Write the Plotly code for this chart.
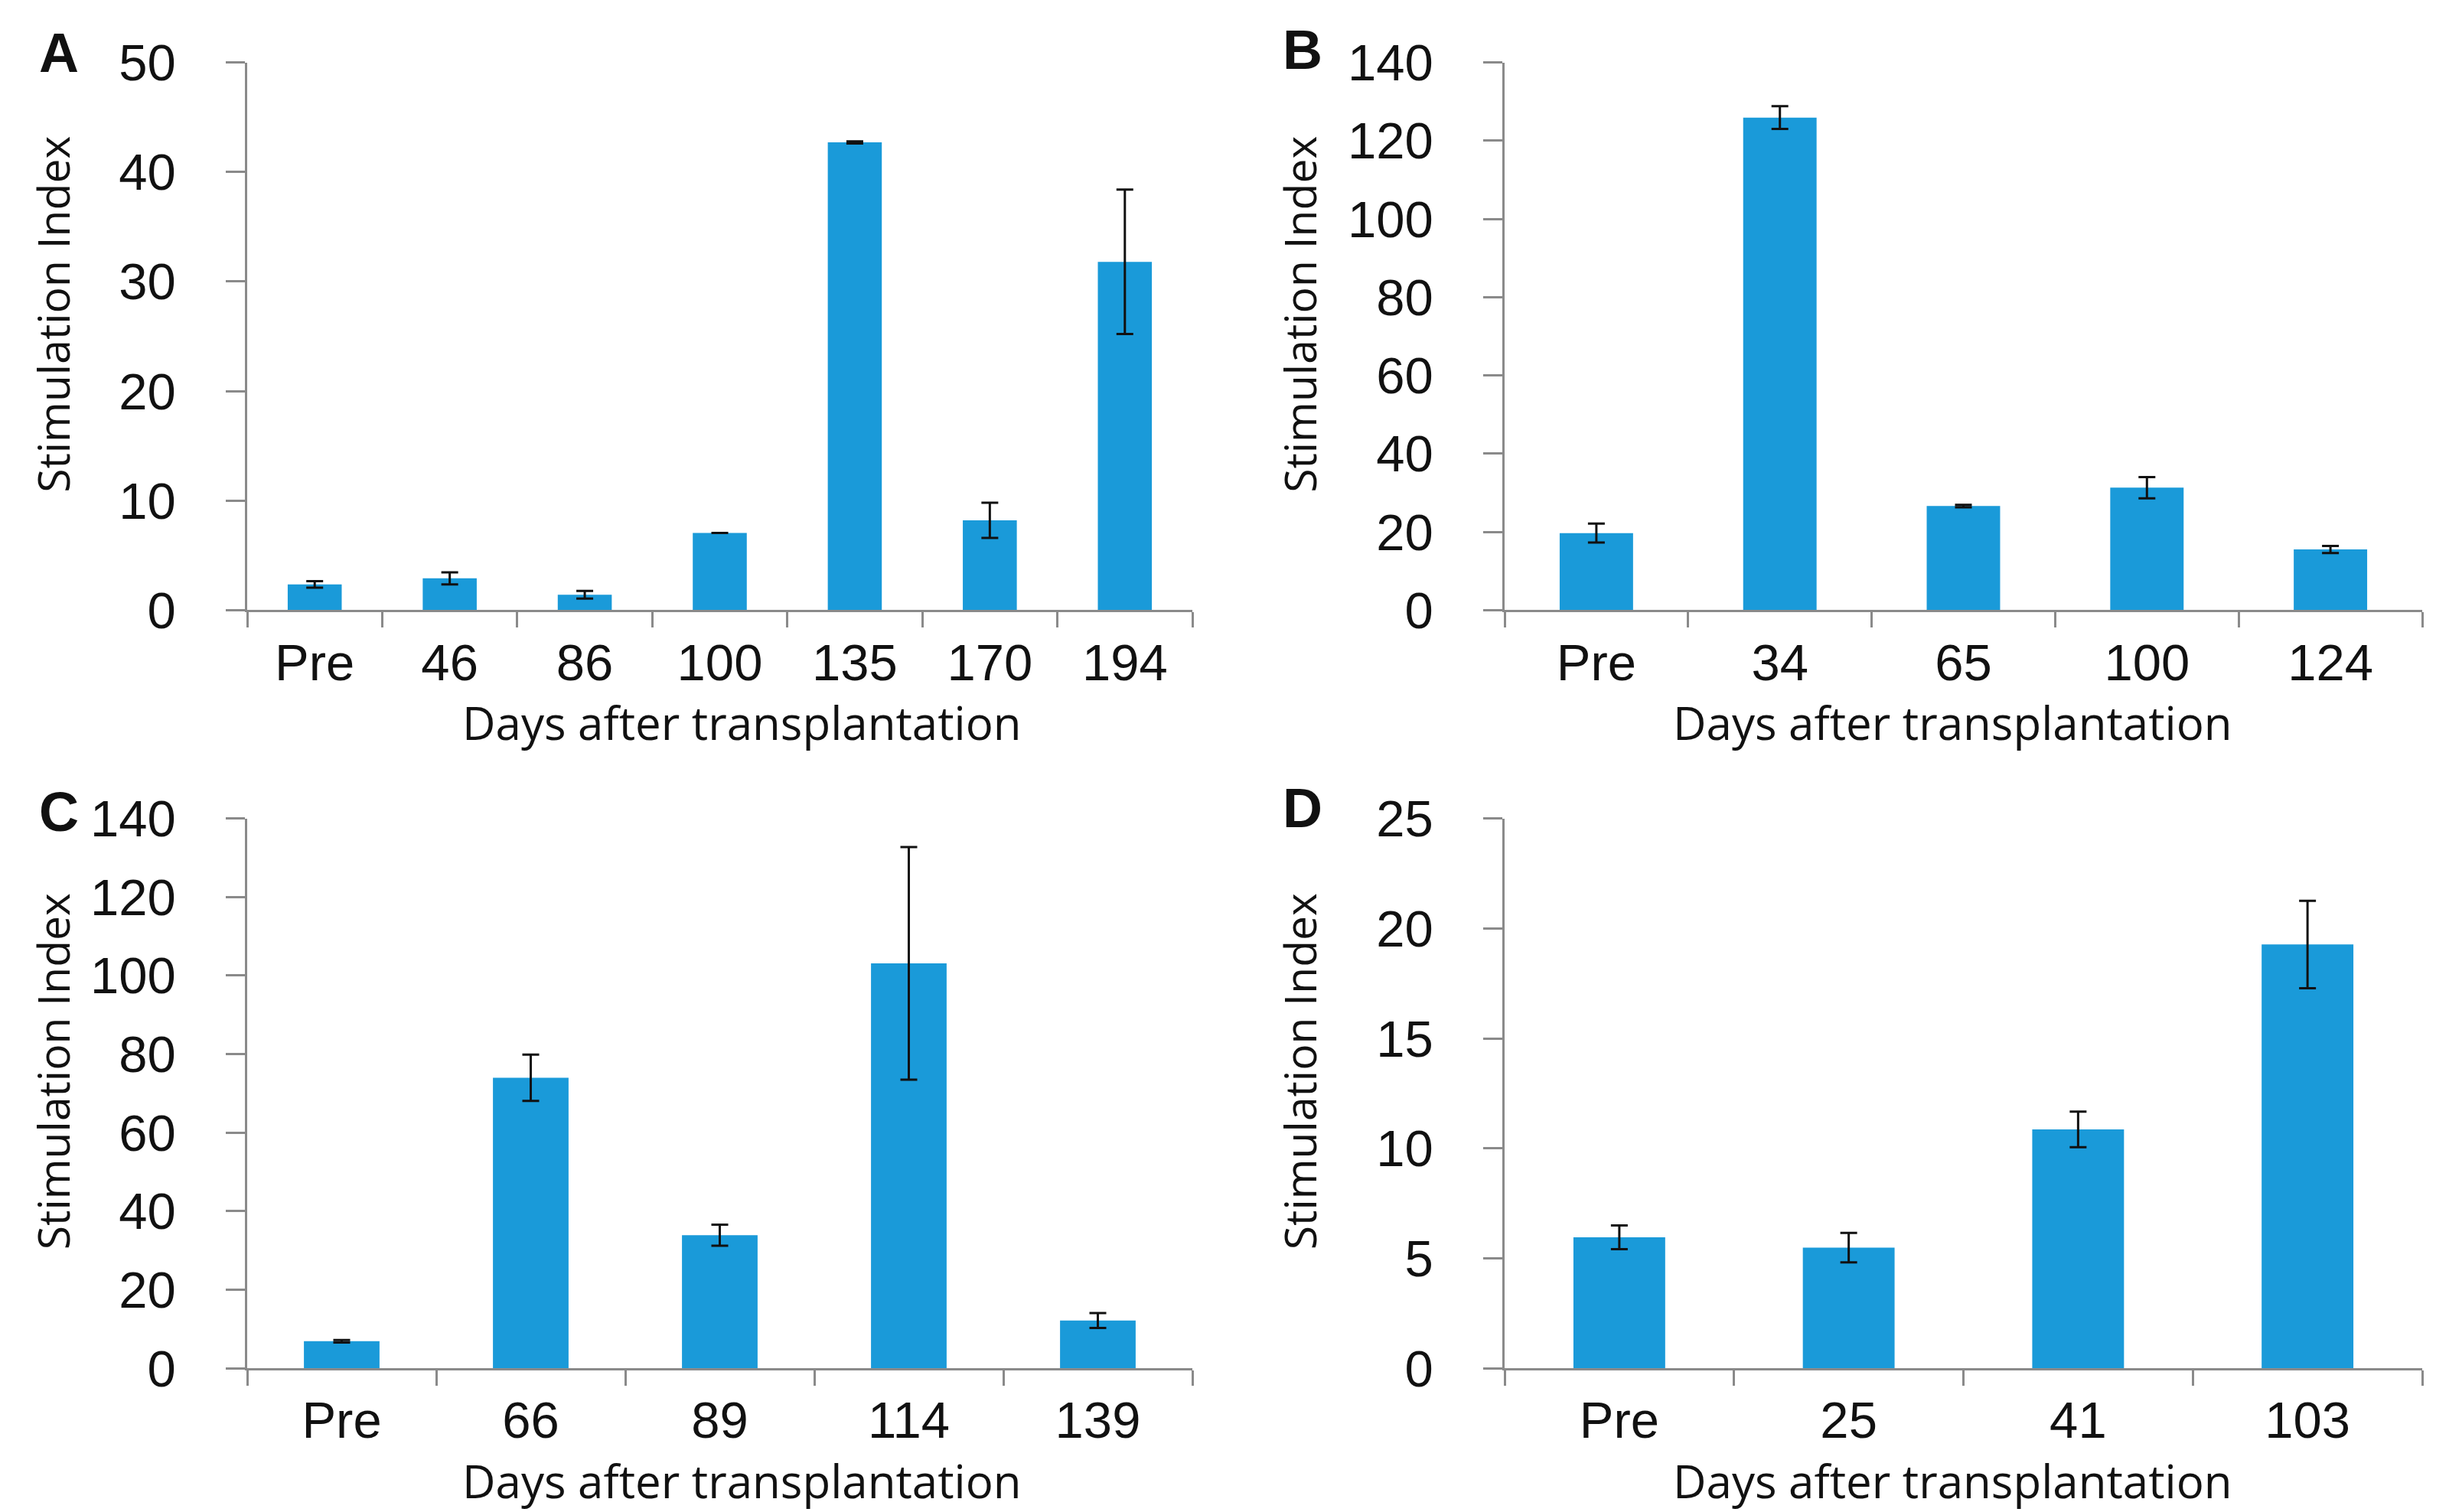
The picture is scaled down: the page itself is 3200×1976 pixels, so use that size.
import plotly.graph_objects as go
from plotly.subplots import make_subplots

# ---- data ----
cats_a = ["Pre", "46", "86", "100", "135", "170", "194"]
vals_a = [2.35, 2.9, 1.4, 7.05, 42.7, 8.2, 31.8]
errs_a = [0.3, 0.55, 0.35, 0.0, 0.1, 1.6, 6.6]

cats_b = ["Pre", "34", "65", "100", "124"]
vals_b = [19.7, 125.9, 26.6, 31.3, 15.5]
errs_b = [2.4, 2.9, 0.3, 2.7, 0.9]

cats_c = ["Pre", "66", "89", "114", "139"]
vals_c = [6.9, 74.0, 33.9, 103.1, 12.2]
errs_c = [0.3, 5.9, 2.7, 29.6, 1.9]

cats_d = ["Pre", "25", "41", "103"]
vals_d = [5.96, 5.49, 10.86, 19.27]
errs_d = [0.54, 0.67, 0.81, 1.99]

y_ranges = [[0, 50], [0, 140], [0, 140], [0, 25]]
y_dticks = [10, 20, 20, 5]
panel_letters = ["A", "B", "C", "D"]
x_title = "Days after transplantation"
y_title = "Stimulation Index"

W, H = 3200, 1976
BAR = "#1a9ad9"
AXC = "#8a8a8a"
INK = "#111111"
TICKFONT = dict(family="Liberation Sans, Arial, sans-serif", size=67, color=INK)
XTITLEFONT = dict(family="Open Sans, Noto Sans, sans-serif", size=60, color=INK)
YTITLEFONT = dict(family="Open Sans, Noto Sans, sans-serif", size=57, color=INK)

fig = make_subplots(rows=2, cols=2)

panels = [
    (cats_a, vals_a, errs_a, 1, 1),
    (cats_b, vals_b, errs_b, 1, 2),
    (cats_c, vals_c, errs_c, 2, 1),
    (cats_d, vals_d, errs_d, 2, 2),
]
for cats, vals, errs, r, c in panels:
    fig.add_trace(
        go.Bar(
            x=cats, y=vals,
            marker=dict(color=BAR, line=dict(width=0)),
            error_y=dict(type="data", array=errs, visible=True,
                         color=INK, thickness=3, width=11),
            showlegend=False,
        ),
        row=r, col=c,
    )

xdom = [[315 / W, 1550 / W], [1958 / W, 3157 / W]]
ydom = [[1 - 781 / H, 1 - 37 / H], [1 - 1811 / H, 1 - 1064 / H]]

for i in range(4):
    r, c = divmod(i, 2)
    xa = "xaxis" if i == 0 else f"xaxis{i+1}"
    ya = "yaxis" if i == 0 else f"yaxis{i+1}"
    fig.layout[xa].update(
        domain=xdom[c], showgrid=False, zeroline=False,
        showline=True, linecolor=AXC, linewidth=2.5,
        ticks="outside", tickson="boundaries", ticklen=20, tickwidth=2.5,
        tickcolor=AXC, tickfont=TICKFONT, ticklabelstandoff=8,
    )
    fig.layout[ya].update(
        domain=ydom[r], range=y_ranges[i], dtick=y_dticks[i], tick0=0,
        showgrid=False, zeroline=False,
        showline=True, linecolor=AXC, linewidth=2.5,
        ticks="outside", ticklen=25, tickwidth=2.5, tickcolor=AXC,
        tickfont=TICKFONT, ticklabelstandoff=52,
    )

# axis titles placed as text annotations
ytitle_x = [61, 1690, 61, 1690]
xtitle_x = [961, 2543, 961, 2543]
for i in range(4):
    yref = "y domain" if i == 0 else f"y{i+1} domain"
    fig.add_annotation(
        text=y_title, textangle=-90, xref="paper", yref=yref,
        x=ytitle_x[i] / W, y=0.54, xanchor="center", yanchor="middle",
        showarrow=False, font=YTITLEFONT,
    )
    fig.add_annotation(
        text=x_title, xref="paper", yref=yref,
        x=xtitle_x[i] / W, y=0, yshift=-147, xanchor="center", yanchor="middle",
        showarrow=False, font=XTITLEFONT,
    )

letter_pos = [(69, 24), (1694, 20), (69, 1055), (1694, 1050)]
for letter, (lx, ly) in zip(panel_letters, letter_pos):
    fig.add_annotation(
        text=f"<b>{letter}</b>", xref="paper", yref="paper",
        x=lx / W, y=1 - ly / H, xanchor="center", yanchor="middle",
        showarrow=False,
        font=dict(family="Liberation Sans, Arial, sans-serif", size=72, color=INK),
    )

fig.update_layout(
    width=W, height=H,
    margin=dict(l=0, r=0, t=0, b=0),
    paper_bgcolor="white", plot_bgcolor="white",
    bargap=0.6,
)

fig.write_html("out.html")
